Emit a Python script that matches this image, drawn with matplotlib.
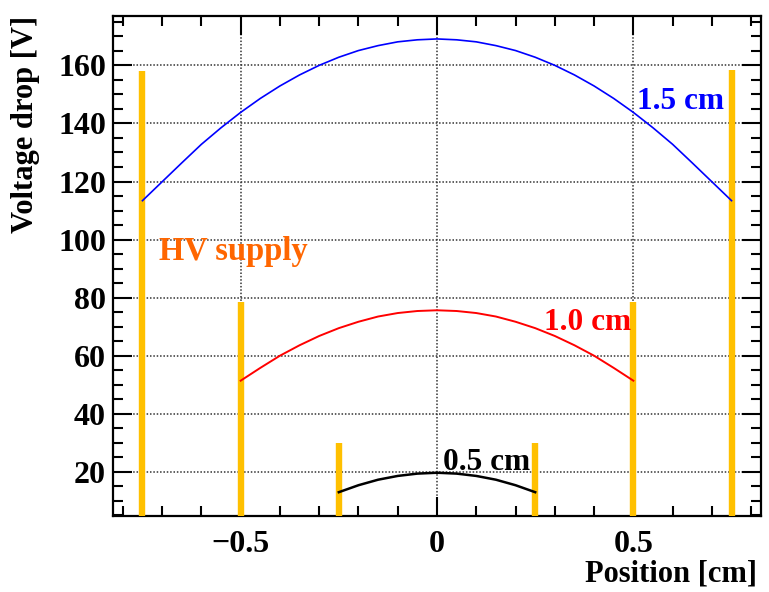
import numpy as np
import matplotlib.pyplot as plt
from matplotlib.ticker import MultipleLocator

# values
x15 = [-0.75, -0.70, -0.65, -0.60, -0.55, -0.50, -0.45, -0.40, -0.35, -0.30, -0.25, -0.20, -0.15, -0.10, -0.05, 0.0,
       0.05, 0.10, 0.15, 0.20, 0.25, 0.30, 0.35, 0.40, 0.45, 0.50, 0.55, 0.60, 0.65, 0.70, 0.75]
v15 = [113.4, 119.9, 126.4, 132.8, 138.5, 143.8, 148.6, 152.9, 156.7, 160.0, 162.8, 165.1, 166.8, 168.1, 168.8, 169.1,
       168.8, 168.1, 166.8, 165.1, 162.8, 160.0, 156.7, 152.9, 148.6, 143.8, 138.5, 132.8, 126.4, 119.9, 113.4]
x10 = [-0.50, -0.45, -0.40, -0.35, -0.30, -0.25, -0.20, -0.15, -0.10, -0.05, 0.0,
       0.05, 0.10, 0.15, 0.20, 0.25, 0.30, 0.35, 0.40, 0.45, 0.50]
v10 = [51.4, 55.8, 60.0, 63.6, 66.8, 69.5, 71.7, 73.5, 74.7, 75.4, 75.65,
       75.4, 74.7, 73.5, 71.7, 69.5, 66.8, 63.6, 60.0, 55.8, 51.4]
x05 = [-0.25, -0.20, -0.15, -0.10, -0.05, 0.0, 0.05, 0.10, 0.15, 0.20, 0.25]
v05 = [13.0, 15.4, 17.3, 18.6, 19.4, 19.7, 19.4, 18.6, 17.3, 15.4, 13.0]

# HV supply bars: position and top
bar_x = [-0.75, 0.75, -0.5, 0.5, -0.25, 0.25]
bar_top = [158.0, 158.5, 78.6, 78.6, 29.8, 29.8]

plt.rcParams['font.family'] = ['Liberation Serif', 'DejaVu Serif']
plt.rcParams['font.weight'] = 'bold'

fig = plt.figure(figsize=(7.69, 5.92), dpi=100)
ax = fig.add_axes([113/769, 76/592, 648/769, 500/592])

ymin, ymax = 4.8, 177.0
ax.set_xlim(-0.825, 0.825)
ax.set_ylim(ymin, ymax)

ax.grid(True, which='major', linestyle=(0, (1, 1.2)), color='#333333', linewidth=1.1)
ax.set_axisbelow(True)

for bx, bt in zip(bar_x, bar_top):
    ax.plot([bx, bx], [ymin, bt], color='#FFC000', linewidth=4.6, solid_capstyle='butt', zorder=3)

ax.plot(x15, v15, color='#0000FF', linewidth=1.2, zorder=4)
ax.plot(x10, v10, color='#FF0000', linewidth=1.4, zorder=4)
ax.plot(x05, v05, color='black', linewidth=1.8, zorder=4)

ax.text(0.508, 144.8, '1.5 cm', color='#0000FF', fontsize=22.5, fontweight='bold', zorder=5)
ax.text(0.272, 68.8, '1.0 cm', color='#FF0000', fontsize=22.5, fontweight='bold', zorder=5)
ax.text(0.016, 20.8, '0.5 cm', color='black', fontsize=22.5, fontweight='bold', zorder=5)
ax.text(-0.708, 92.9, 'HV supply', color='#FF6600', fontsize=23.5, fontweight='bold', zorder=5)

ax.xaxis.set_major_locator(MultipleLocator(0.5))
ax.xaxis.set_minor_locator(MultipleLocator(0.1))
ax.yaxis.set_major_locator(MultipleLocator(20))
ax.yaxis.set_minor_locator(MultipleLocator(5))
ax.set_xticks([-0.5, 0, 0.5])
ax.set_xticklabels(['\u22120.5', '0', '0.5'])
ax.set_yticks([20, 40, 60, 80, 100, 120, 140, 160])

ax.tick_params(which='both', direction='in', top=True, right=True, width=1.5, labelsize=23)
ax.tick_params(which='major', length=14)
ax.tick_params(which='minor', length=7)
ax.tick_params(axis='x', which='major', pad=10)
ax.tick_params(axis='y', which='major', pad=5)
for lab in ax.get_xticklabels() + ax.get_yticklabels():
    lab.set_fontweight('bold')
for s in ax.spines.values():
    s.set_linewidth(1.6)

fig.text(757/769, 10/592, 'Position [cm]', ha='right', va='baseline', fontsize=22, fontweight='bold')
fig.text(26/769, 1 - 16/592, 'Voltage drop [V]', ha='center', va='top', rotation=90, fontsize=22, fontweight='bold')

plt.savefig('out.png', dpi=100)
